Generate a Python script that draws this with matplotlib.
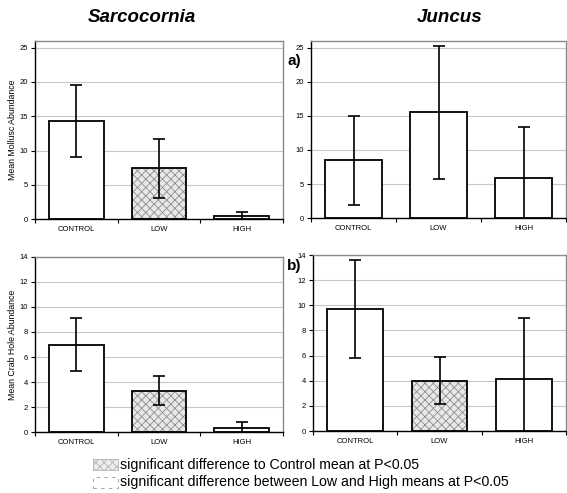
import numpy as np
import matplotlib
matplotlib.use("Agg")
import matplotlib.pyplot as plt
from matplotlib.patches import Rectangle

plt.rcParams['font.family'] = ['Liberation Sans', 'DejaVu Sans']
plt.rcParams['hatch.linewidth'] = 0.6

# dati
trattamenti = ["CONTROL", "LOW", "HIGH"]
molluschi_sarc = [14.3, 7.4, 0.5]
molluschi_sarc_err = [5.3, 4.3, 0.6]
molluschi_junc = [8.5, 15.5, 5.9]
molluschi_junc_err = [6.5, 9.7, 7.4]
granchi_sarc = [7.0, 3.3, 0.35]
granchi_sarc_err = [2.15, 1.15, 0.5]
granchi_junc = [9.7, 4.0, 4.1]
granchi_junc_err = [3.9, 1.85, 4.9]
# quali barre sono tratteggiate (differenza significativa da Control)
sign_sarc_mol = [False, True, False]
sign_junc_mol = [False, False, False]
sign_sarc_gr = [False, True, False]
sign_junc_gr = [False, True, False]

W, H = 567, 493
fig = plt.figure(figsize=(W / 100, H / 100), dpi=100)


def asse(l, r, t, b):
    return fig.add_axes([l / W, 1 - b / H, (r - l) / W, (b - t) / H])


def pannello(ax, valori, errori, signif, ymax, ytop, passo, ylabel=None):
    x = np.arange(len(trattamenti))
    for i in range(len(x)):
        if signif[i]:
            # prima il retino grigio, poi il contorno nero
            ax.bar(x[i], valori[i], width=0.66, color='#e8e8e8', edgecolor='#8e8e8e',
                   linewidth=0, hatch='xxxx', zorder=2)
            ax.bar(x[i], valori[i], width=0.66, fill=False, edgecolor='black',
                   linewidth=1.3, zorder=2.5)
        else:
            ax.bar(x[i], valori[i], width=0.66, color='white', edgecolor='black',
                   linewidth=1.3, zorder=2)
    ax.errorbar(x, valori, yerr=errori, fmt='none', ecolor='black', elinewidth=1.2,
                capsize=4, capthick=1.2, zorder=3)
    ax.set_xlim(-0.5, len(x) - 0.5)
    ax.set_ylim(0, ymax)
    ax.set_yticks(np.arange(0, ytop + 0.1, passo))
    ax.set_xticks(x)
    ax.set_xticklabels(trattamenti)
    ax.set_xticks(np.arange(-0.5, len(x), 1), minor=True)
    ax.tick_params(axis='x', which='major', length=0, labelsize=5.5, pad=5)
    ax.tick_params(axis='x', which='minor', length=3, direction='out', width=0.8)
    ax.tick_params(axis='y', length=3, direction='out', width=0.8, labelsize=5.5, pad=2)
    ax.grid(axis='y', color='#c8c8c8', linewidth=0.8, zorder=0)
    ax.set_axisbelow(True)
    for s in ['top', 'right']:
        ax.spines[s].set_color('#8a8a8a')
        ax.spines[s].set_linewidth(1.0)
    for s in ['left', 'bottom']:
        ax.spines[s].set_color('black')
        ax.spines[s].set_linewidth(1.0)
    if ylabel:
        ax.set_ylabel(ylabel, fontsize=6.3, labelpad=2)


ax1 = asse(35, 283, 40.7, 219.3)
pannello(ax1, molluschi_sarc, molluschi_sarc_err, sign_sarc_mol, 26, 25, 5, "Mean Mollusc Abundance")
ax2 = asse(311, 566, 40.7, 218.3)
pannello(ax2, molluschi_junc, molluschi_junc_err, sign_junc_mol, 26, 25, 5)
ax3 = asse(35, 283, 256.7, 432.3)
pannello(ax3, granchi_sarc, granchi_sarc_err, sign_sarc_gr, 14, 14, 2, "Mean Crab Hole Abundance")
ax4 = asse(313, 566, 255, 431)
pannello(ax4, granchi_junc, granchi_junc_err, sign_junc_gr, 14, 14, 2)

fig.text(142 / W, 1 - 18 / H, "Sarcocornia", fontsize=13.5, fontweight='bold', style='italic',
         ha='center', va='center')
fig.text(450 / W, 1 - 18 / H, "Juncus", fontsize=13.5, fontweight='bold', style='italic',
         ha='center', va='center')
fig.text(288 / W, 1 - 61 / H, "a)", fontsize=11, fontweight='bold', ha='left', va='center')
fig.text(287 / W, 1 - 266 / H, "b)", fontsize=11, fontweight='bold', ha='left', va='center')

# legenda in basso
fig.add_artist(Rectangle((93 / W, 1 - 470 / H), 25 / W, 11 / H, transform=fig.transFigure,
                         facecolor='#eeeeee', edgecolor='#b0b0b0', hatch='xxxx', linewidth=0.6))
fig.text(120 / W, 1 - 464.5 / H, "significant difference to Control mean at P<0.05",
         fontsize=10.2, ha='left', va='center')
fig.add_artist(Rectangle((93 / W, 1 - 488 / H), 25 / W, 11 / H, transform=fig.transFigure,
                         facecolor='white', edgecolor='#aaaaaa', linestyle=(0, (3, 4)),
                         linewidth=0.8))
fig.text(120 / W, 1 - 482 / H, "significant difference between Low and High means at P<0.05",
         fontsize=10.2, ha='left', va='center')

fig.savefig("out.png", dpi=100)
